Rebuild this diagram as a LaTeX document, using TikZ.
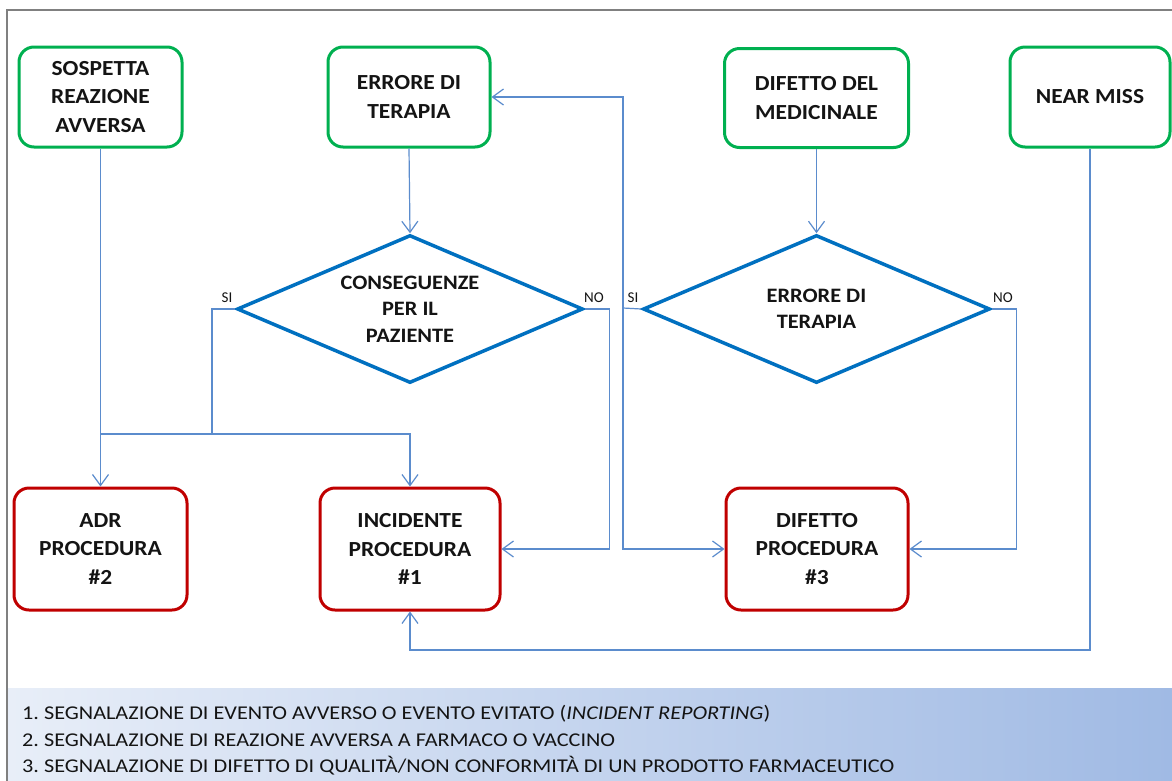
\documentclass[tikz,border=0pt]{standalone}
\usepackage{fontspec}
\setmainfont{Carlito}
\newfontfamily\legendfont[FakeStretch=1.14]{Carlito}
\newfontfamily\boxfont[FakeStretch=1.09]{Carlito}
\usetikzlibrary{shapes.geometric,arrows.meta,calc}
\definecolor{gframe}{RGB}{128,128,128}
\definecolor{ggreen}{RGB}{0,176,80}
\definecolor{rred}{RGB}{192,0,0}
\definecolor{dblue}{RGB}{0,112,192}
\definecolor{cblue}{RGB}{91,140,205}
\definecolor{txt}{RGB}{20,20,20}
\definecolor{bandL}{RGB}{232,238,248}
\definecolor{bandR}{RGB}{160,186,228}
\tikzset{
  box/.style={rounded corners=15pt, line width=3pt, fill=white, align=center,
    text=txt, font=\boxfont\fontsize{21.5}{28.5}\selectfont\bfseries, inner sep=0pt},
  gbox/.style={box, draw=ggreen},
  rbox/.style={box, draw=rred},
  dec/.style={diamond, draw=dblue, line width=3.5pt, fill=white, align=center,
    text=txt, font=\boxfont\fontsize{20.5}{26.5}\selectfont\bfseries, inner sep=0pt,
    shape aspect=2.34},
  conn/.style={draw=cblue, line width=1.2pt},
  arr/.style={conn, -{Straight Barb[length=11pt,width=16pt,line width=1.2pt]}},
  lbl/.style={text=txt, font=\fontsize{15}{16}\selectfont, inner sep=0pt},
  leg/.style={text=txt, font=\legendfont\fontsize{19.5}{24}\selectfont, anchor=west, inner sep=0pt}
}
\begin{document}
\begin{tikzpicture}[x=1pt,y=-1pt]
\useasboundingbox (0,0) rectangle (1172,780);
\fill[white] (0,0) rectangle (1172,780);
% legend band
\shade[left color=bandL, right color=bandR] (8,688) rectangle (1172,780);
% frame
\draw[gframe, line width=2.5pt] (7,790) -- (7,10) -- (1180,10);

% top boxes
\node[gbox, minimum width=163pt, minimum height=100pt] (s1) at (100.5,97) {SOSPETTA\\REAZIONE\\AVVERSA};
\node[gbox, minimum width=162pt, minimum height=100pt] (s2) at (409,97) {ERRORE DI\\TERAPIA};
\node[gbox, minimum width=184pt, minimum height=99pt] (s3) at (816.5,98) {DIFETTO DEL\\MEDICINALE};
\node[gbox, minimum width=160pt, minimum height=100pt] (s4) at (1090,97) {NEAR MISS};

% diamonds
\node[dec, minimum width=346pt, minimum height=148pt] (d1) at (410,309) {CONSEGUENZE\\PER IL\\PAZIENTE};
\node[dec, minimum width=347pt, minimum height=148pt] (d2) at (816.5,309) {ERRORE DI\\TERAPIA};

% bottom boxes
\node[rbox, minimum width=173pt, minimum height=122pt] (r2) at (100.5,549) {ADR\\PROCEDURA\\\#2};
\node[rbox, minimum width=180pt, minimum height=122pt] (r1) at (410,549) {INCIDENTE\\PROCEDURA\\\#1};
\node[rbox, minimum width=182pt, minimum height=122pt] (r3) at (817,549) {DIFETTO\\PROCEDURA\\\#3};

% junctions
\coordinate (j1) at (212,434);
\coordinate (j2) at (623,308);
\coordinate (k) at (1090,650);

% connectors
\draw[arr] (s1.south) -- (r2.north);
\draw[arr] (s2.south) -- (d1.north);
\draw[arr] (s3.south) -- (d2.north);
\draw[arr] (d1.west) -| (j1) -| (r1.north);
\draw[conn] (s1.south |- j1) -- (j1);
\draw[arr] (d1.east) -- ++(25,0) |- (r1.east);
\draw[conn] (d2.west) -- (j2);
\draw[arr] (j2) |- (s2.east);
\draw[arr] (j2) |- (r3.west);
\draw[arr] (d2.east) -- ++(25,0) |- (r3.east);
\draw[arr] (s4.south) -- (k) -| (r1.south);

% labels
\node[lbl] (si1) at (227,298) {SI};
\node[lbl] (no1) at (594,298) {NO};
\node[lbl] (si2) at (633,298) {SI};
\node[lbl] (no2) at (1003,298) {NO};

% legend
\node[leg] (l1) at (22,714) {1.\ SEGNALAZIONE DI EVENTO AVVERSO O EVENTO EVITATO (\textit{INCIDENT REPORTING})};
\node[leg] (l2) at (22,740) {2.\ SEGNALAZIONE DI REAZIONE AVVERSA A FARMACO O VACCINO};
\node[leg] (l3) at (22,766) {3.\ SEGNALAZIONE DI DIFETTO DI QUALITÀ/NON CONFORMITÀ DI UN PRODOTTO FARMACEUTICO};
\end{tikzpicture}
\end{document}
